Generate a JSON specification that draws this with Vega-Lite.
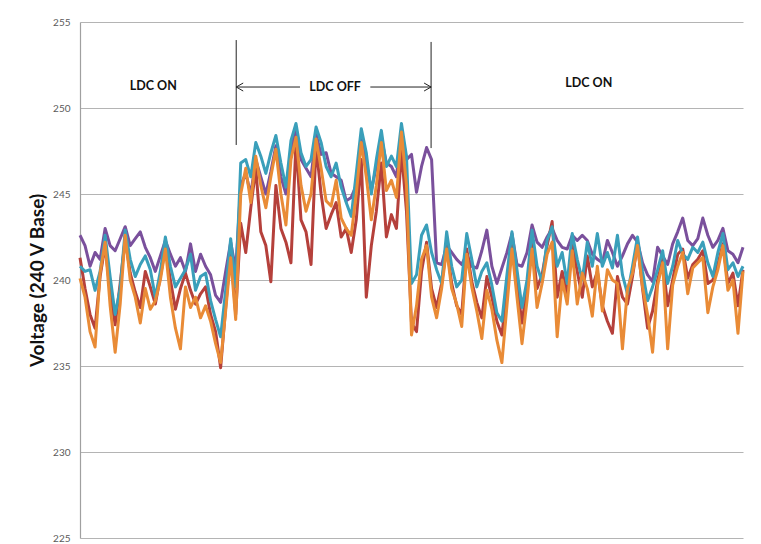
{
"$schema": "https://vega.github.io/schema/vega-lite/v6.json",
"width": 663, "height": 516,
"autosize": {"type": "none"},
"padding": {"left": 80, "top": 22, "right": 18, "bottom": 6},
"background": "white",
"config": {"view": {"stroke": null}, "font": "Lato"},
"datasets": {
"volts": [
{"s":"A","i":0,"v":242.6},{"s":"A","i":1,"v":242.0},{"s":"A","i":2,"v":240.8},{"s":"A","i":3,"v":241.6},{"s":"A","i":4,"v":241.2},{"s":"A","i":5,"v":243.0},{"s":"A","i":6,"v":242.0},{"s":"A","i":7,"v":241.7},{"s":"A","i":8,"v":242.4},{"s":"A","i":9,"v":243.1},{"s":"A","i":10,"v":242.0},{"s":"A","i":11,"v":242.4},{"s":"A","i":12,"v":242.8},{"s":"A","i":13,"v":241.9},{"s":"A","i":14,"v":241.3},{"s":"A","i":15,"v":240.5},{"s":"A","i":16,"v":241.4},{"s":"A","i":17,"v":242.3},{"s":"A","i":18,"v":241.5},{"s":"A","i":19,"v":240.8},{"s":"A","i":20,"v":241.3},{"s":"A","i":21,"v":240.5},{"s":"A","i":22,"v":242.1},{"s":"A","i":23,"v":240.5},{"s":"A","i":24,"v":241.5},{"s":"A","i":25,"v":240.8},{"s":"A","i":26,"v":240.3},{"s":"A","i":27,"v":239.1},{"s":"A","i":28,"v":238.7},{"s":"A","i":29,"v":240.5},{"s":"A","i":30,"v":242.2},{"s":"A","i":31,"v":240.6},
{"s":"A","i":32,"v":245.5},{"s":"A","i":33,"v":246.2},{"s":"A","i":34,"v":245.0},{"s":"A","i":35,"v":247.0},{"s":"A","i":36,"v":246.0},{"s":"A","i":37,"v":245.0},{"s":"A","i":38,"v":246.3},{"s":"A","i":39,"v":247.8},{"s":"A","i":40,"v":246.0},{"s":"A","i":41,"v":245.0},{"s":"A","i":42,"v":247.5},{"s":"A","i":43,"v":248.8},{"s":"A","i":44,"v":247.0},{"s":"A","i":45,"v":246.5},{"s":"A","i":46,"v":246.0},{"s":"A","i":47,"v":248.5},{"s":"A","i":48,"v":247.3},{"s":"A","i":49,"v":247.4},{"s":"A","i":50,"v":246.2},{"s":"A","i":51,"v":246.0},{"s":"A","i":52,"v":245.8},{"s":"A","i":53,"v":244.6},{"s":"A","i":54,"v":244.8},{"s":"A","i":55,"v":245.5},{"s":"A","i":56,"v":248.2},{"s":"A","i":57,"v":246.8},{"s":"A","i":58,"v":245.2},{"s":"A","i":59,"v":246.6},{"s":"A","i":60,"v":248.3},{"s":"A","i":61,"v":246.8},{"s":"A","i":62,"v":246.6},{"s":"A","i":63,"v":246.0},{"s":"A","i":64,"v":248.7},{"s":"A","i":65,"v":247.0},{"s":"A","i":66,"v":247.3},{"s":"A","i":67,"v":245.1},{"s":"A","i":68,"v":246.6},{"s":"A","i":69,"v":247.7},{"s":"A","i":70,"v":247.0},
{"s":"A","i":71,"v":241.0},{"s":"A","i":72,"v":240.9},{"s":"A","i":73,"v":242.0},{"s":"A","i":74,"v":241.6},{"s":"A","i":75,"v":241.2},{"s":"A","i":76,"v":240.9},{"s":"A","i":77,"v":241.5},{"s":"A","i":78,"v":240.8},{"s":"A","i":79,"v":240.7},{"s":"A","i":80,"v":241.7},{"s":"A","i":81,"v":242.9},{"s":"A","i":82,"v":240.8},{"s":"A","i":83,"v":239.8},{"s":"A","i":84,"v":240.7},{"s":"A","i":85,"v":241.6},{"s":"A","i":86,"v":242.7},{"s":"A","i":87,"v":240.9},{"s":"A","i":88,"v":240.8},{"s":"A","i":89,"v":241.6},{"s":"A","i":90,"v":243.2},{"s":"A","i":91,"v":242.2},{"s":"A","i":92,"v":241.9},{"s":"A","i":93,"v":242.5},{"s":"A","i":94,"v":243.0},{"s":"A","i":95,"v":242.3},{"s":"A","i":96,"v":241.9},{"s":"A","i":97,"v":241.8},{"s":"A","i":98,"v":242.6},{"s":"A","i":99,"v":242.3},{"s":"A","i":100,"v":242.6},{"s":"A","i":101,"v":242.3},{"s":"A","i":102,"v":241.5},{"s":"A","i":103,"v":241.2},{"s":"A","i":104,"v":241.0},{"s":"A","i":105,"v":242.3},{"s":"A","i":106,"v":241.6},{"s":"A","i":107,"v":240.8},{"s":"A","i":108,"v":241.4},{"s":"A","i":109,"v":242.1},{"s":"A","i":110,"v":242.6},{"s":"A","i":111,"v":242.2},{"s":"A","i":112,"v":241.0},{"s":"A","i":113,"v":240.3},{"s":"A","i":114,"v":239.9},{"s":"A","i":115,"v":241.9},{"s":"A","i":116,"v":241.4},{"s":"A","i":117,"v":240.9},{"s":"A","i":118,"v":242.1},{"s":"A","i":119,"v":242.8},{"s":"A","i":120,"v":243.6},{"s":"A","i":121,"v":242.3},{"s":"A","i":122,"v":242.0},{"s":"A","i":123,"v":242.4},{"s":"A","i":124,"v":243.6},{"s":"A","i":125,"v":242.6},{"s":"A","i":126,"v":241.9},{"s":"A","i":127,"v":242.3},{"s":"A","i":128,"v":243.0},{"s":"A","i":129,"v":241.7},{"s":"A","i":130,"v":241.5},{"s":"A","i":131,"v":241.0},{"s":"A","i":132,"v":241.9},
{"s":"B","i":0,"v":241.3},{"s":"B","i":1,"v":239.5},{"s":"B","i":2,"v":238.0},{"s":"B","i":3,"v":237.2},{"s":"B","i":4,"v":240.2},{"s":"B","i":5,"v":242.0},{"s":"B","i":6,"v":239.3},{"s":"B","i":7,"v":237.4},{"s":"B","i":8,"v":239.8},{"s":"B","i":9,"v":242.4},{"s":"B","i":10,"v":240.4},{"s":"B","i":11,"v":239.3},{"s":"B","i":12,"v":238.4},{"s":"B","i":13,"v":240.5},{"s":"B","i":14,"v":239.6},{"s":"B","i":15,"v":238.6},{"s":"B","i":16,"v":240.2},{"s":"B","i":17,"v":241.9},{"s":"B","i":18,"v":240.0},{"s":"B","i":19,"v":238.3},{"s":"B","i":20,"v":239.5},{"s":"B","i":21,"v":240.4},{"s":"B","i":22,"v":239.4},{"s":"B","i":23,"v":238.6},{"s":"B","i":24,"v":239.2},{"s":"B","i":25,"v":239.6},{"s":"B","i":26,"v":238.0},{"s":"B","i":27,"v":237.0},{"s":"B","i":28,"v":234.9},{"s":"B","i":29,"v":238.4},{"s":"B","i":30,"v":241.8},{"s":"B","i":31,"v":238.0},
{"s":"B","i":32,"v":243.3},{"s":"B","i":33,"v":241.6},{"s":"B","i":34,"v":244.2},{"s":"B","i":35,"v":246.5},{"s":"B","i":36,"v":242.8},{"s":"B","i":37,"v":242.0},{"s":"B","i":38,"v":239.9},{"s":"B","i":39,"v":245.5},{"s":"B","i":40,"v":243.0},{"s":"B","i":41,"v":242.2},{"s":"B","i":42,"v":241.0},{"s":"B","i":43,"v":248.0},{"s":"B","i":44,"v":243.5},{"s":"B","i":45,"v":242.8},{"s":"B","i":46,"v":240.9},{"s":"B","i":47,"v":247.8},{"s":"B","i":48,"v":245.0},{"s":"B","i":49,"v":243.0},{"s":"B","i":50,"v":243.8},{"s":"B","i":51,"v":244.5},{"s":"B","i":52,"v":242.5},{"s":"B","i":53,"v":243.0},{"s":"B","i":54,"v":241.6},{"s":"B","i":55,"v":243.5},{"s":"B","i":56,"v":247.0},{"s":"B","i":57,"v":239.0},{"s":"B","i":58,"v":242.0},{"s":"B","i":59,"v":244.0},{"s":"B","i":60,"v":246.8},{"s":"B","i":61,"v":242.5},{"s":"B","i":62,"v":243.8},{"s":"B","i":63,"v":243.0},{"s":"B","i":64,"v":247.5},{"s":"B","i":65,"v":244.0},
{"s":"B","i":66,"v":237.5},{"s":"B","i":67,"v":237.0},{"s":"B","i":68,"v":240.5},{"s":"B","i":69,"v":242.2},{"s":"B","i":70,"v":239.5},{"s":"B","i":71,"v":238.4},{"s":"B","i":72,"v":239.8},{"s":"B","i":73,"v":242.0},{"s":"B","i":74,"v":239.8},{"s":"B","i":75,"v":238.5},{"s":"B","i":76,"v":238.0},{"s":"B","i":77,"v":241.8},{"s":"B","i":78,"v":239.9},{"s":"B","i":79,"v":238.7},{"s":"B","i":80,"v":237.8},{"s":"B","i":81,"v":240.2},{"s":"B","i":82,"v":239.0},{"s":"B","i":83,"v":237.6},{"s":"B","i":84,"v":236.8},{"s":"B","i":85,"v":239.4},{"s":"B","i":86,"v":242.0},{"s":"B","i":87,"v":239.7},{"s":"B","i":88,"v":237.5},{"s":"B","i":89,"v":239.6},{"s":"B","i":90,"v":242.2},{"s":"B","i":91,"v":239.5},{"s":"B","i":92,"v":240.3},{"s":"B","i":93,"v":242.0},{"s":"B","i":94,"v":243.4},{"s":"B","i":95,"v":239.0},{"s":"B","i":96,"v":240.5},{"s":"B","i":97,"v":239.2},{"s":"B","i":98,"v":242.1},{"s":"B","i":99,"v":240.5},{"s":"B","i":100,"v":239.0},{"s":"B","i":101,"v":241.4},{"s":"B","i":102,"v":239.6},{"s":"B","i":103,"v":240.5},{"s":"B","i":104,"v":238.5},{"s":"B","i":105,"v":237.6},{"s":"B","i":106,"v":236.9},{"s":"B","i":107,"v":240.2},{"s":"B","i":108,"v":239.0},{"s":"B","i":109,"v":238.6},{"s":"B","i":110,"v":240.2},{"s":"B","i":111,"v":242.1},{"s":"B","i":112,"v":239.5},{"s":"B","i":113,"v":237.2},{"s":"B","i":114,"v":238.2},{"s":"B","i":115,"v":240.0},{"s":"B","i":116,"v":241.2},{"s":"B","i":117,"v":238.5},{"s":"B","i":118,"v":240.0},{"s":"B","i":119,"v":241.5},{"s":"B","i":120,"v":241.8},{"s":"B","i":121,"v":240.1},{"s":"B","i":122,"v":240.9},{"s":"B","i":123,"v":241.2},{"s":"B","i":124,"v":241.7},{"s":"B","i":125,"v":239.8},{"s":"B","i":126,"v":240.0},{"s":"B","i":127,"v":240.9},{"s":"B","i":128,"v":242.1},{"s":"B","i":129,"v":239.8},{"s":"B","i":130,"v":240.4},{"s":"B","i":131,"v":238.5},{"s":"B","i":132,"v":240.6},
{"s":"C","i":0,"v":240.8},{"s":"C","i":1,"v":240.5},{"s":"C","i":2,"v":240.6},{"s":"C","i":3,"v":239.4},{"s":"C","i":4,"v":240.5},{"s":"C","i":5,"v":242.6},{"s":"C","i":6,"v":240.2},{"s":"C","i":7,"v":238.0},{"s":"C","i":8,"v":239.5},{"s":"C","i":9,"v":242.9},{"s":"C","i":10,"v":241.2},{"s":"C","i":11,"v":240.2},{"s":"C","i":12,"v":240.9},{"s":"C","i":13,"v":241.4},{"s":"C","i":14,"v":240.6},{"s":"C","i":15,"v":239.0},{"s":"C","i":16,"v":240.5},{"s":"C","i":17,"v":242.5},{"s":"C","i":18,"v":240.8},{"s":"C","i":19,"v":239.6},{"s":"C","i":20,"v":240.1},{"s":"C","i":21,"v":240.6},{"s":"C","i":22,"v":241.5},{"s":"C","i":23,"v":239.4},{"s":"C","i":24,"v":240.2},{"s":"C","i":25,"v":240.4},{"s":"C","i":26,"v":238.8},{"s":"C","i":27,"v":237.7},{"s":"C","i":28,"v":236.7},{"s":"C","i":29,"v":239.4},{"s":"C","i":30,"v":242.4},{"s":"C","i":31,"v":239.6},
{"s":"C","i":32,"v":246.8},{"s":"C","i":33,"v":247.0},{"s":"C","i":34,"v":246.0},{"s":"C","i":35,"v":248.0},{"s":"C","i":36,"v":247.2},{"s":"C","i":37,"v":246.2},{"s":"C","i":38,"v":247.4},{"s":"C","i":39,"v":248.4},{"s":"C","i":40,"v":246.8},{"s":"C","i":41,"v":245.4},{"s":"C","i":42,"v":248.1},{"s":"C","i":43,"v":249.1},{"s":"C","i":44,"v":247.4},{"s":"C","i":45,"v":246.6},{"s":"C","i":46,"v":247.0},{"s":"C","i":47,"v":248.9},{"s":"C","i":48,"v":248.0},{"s":"C","i":49,"v":246.6},{"s":"C","i":50,"v":246.0},{"s":"C","i":51,"v":246.8},{"s":"C","i":52,"v":245.4},{"s":"C","i":53,"v":244.5},{"s":"C","i":54,"v":243.7},{"s":"C","i":55,"v":246.2},{"s":"C","i":56,"v":248.8},{"s":"C","i":57,"v":247.4},{"s":"C","i":58,"v":245.0},{"s":"C","i":59,"v":247.0},{"s":"C","i":60,"v":248.7},{"s":"C","i":61,"v":246.6},{"s":"C","i":62,"v":247.2},{"s":"C","i":63,"v":246.6},{"s":"C","i":64,"v":249.1},{"s":"C","i":65,"v":247.2},
{"s":"C","i":66,"v":239.8},{"s":"C","i":67,"v":240.3},{"s":"C","i":68,"v":242.6},{"s":"C","i":69,"v":243.2},{"s":"C","i":70,"v":241.6},{"s":"C","i":71,"v":240.6},{"s":"C","i":72,"v":239.8},{"s":"C","i":73,"v":242.8},{"s":"C","i":74,"v":240.8},{"s":"C","i":75,"v":239.6},{"s":"C","i":76,"v":240.0},{"s":"C","i":77,"v":242.7},{"s":"C","i":78,"v":241.2},{"s":"C","i":79,"v":239.6},{"s":"C","i":80,"v":240.5},{"s":"C","i":81,"v":241.0},{"s":"C","i":82,"v":239.7},{"s":"C","i":83,"v":238.1},{"s":"C","i":84,"v":237.6},{"s":"C","i":85,"v":240.3},{"s":"C","i":86,"v":242.8},{"s":"C","i":87,"v":240.6},{"s":"C","i":88,"v":238.4},{"s":"C","i":89,"v":240.0},{"s":"C","i":90,"v":242.9},{"s":"C","i":91,"v":240.8},{"s":"C","i":92,"v":239.9},{"s":"C","i":93,"v":242.3},{"s":"C","i":94,"v":243.1},{"s":"C","i":95,"v":240.8},{"s":"C","i":96,"v":241.6},{"s":"C","i":97,"v":239.8},{"s":"C","i":98,"v":242.7},{"s":"C","i":99,"v":241.2},{"s":"C","i":100,"v":240.0},{"s":"C","i":101,"v":242.2},{"s":"C","i":102,"v":240.8},{"s":"C","i":103,"v":242.7},{"s":"C","i":104,"v":240.8},{"s":"C","i":105,"v":241.6},{"s":"C","i":106,"v":240.7},{"s":"C","i":107,"v":242.6},{"s":"C","i":108,"v":240.3},{"s":"C","i":109,"v":239.2},{"s":"C","i":110,"v":240.8},{"s":"C","i":111,"v":242.5},{"s":"C","i":112,"v":240.5},{"s":"C","i":113,"v":238.8},{"s":"C","i":114,"v":239.6},{"s":"C","i":115,"v":240.6},{"s":"C","i":116,"v":241.7},{"s":"C","i":117,"v":239.8},{"s":"C","i":118,"v":240.8},{"s":"C","i":119,"v":242.3},{"s":"C","i":120,"v":241.5},{"s":"C","i":121,"v":241.2},{"s":"C","i":122,"v":241.9},{"s":"C","i":123,"v":241.6},{"s":"C","i":124,"v":242.2},{"s":"C","i":125,"v":241.0},{"s":"C","i":126,"v":240.2},{"s":"C","i":127,"v":241.6},{"s":"C","i":128,"v":242.7},{"s":"C","i":129,"v":240.6},{"s":"C","i":130,"v":241.0},{"s":"C","i":131,"v":240.2},{"s":"C","i":132,"v":240.8},
{"s":"D","i":0,"v":240.1},{"s":"D","i":1,"v":239.0},{"s":"D","i":2,"v":237.0},{"s":"D","i":3,"v":236.1},{"s":"D","i":4,"v":240.4},{"s":"D","i":5,"v":242.2},{"s":"D","i":6,"v":238.5},{"s":"D","i":7,"v":235.8},{"s":"D","i":8,"v":238.6},{"s":"D","i":9,"v":242.6},{"s":"D","i":10,"v":240.0},{"s":"D","i":11,"v":239.0},{"s":"D","i":12,"v":237.5},{"s":"D","i":13,"v":239.5},{"s":"D","i":14,"v":238.3},{"s":"D","i":15,"v":238.8},{"s":"D","i":16,"v":240.0},{"s":"D","i":17,"v":241.8},{"s":"D","i":18,"v":239.0},{"s":"D","i":19,"v":237.2},{"s":"D","i":20,"v":236.0},{"s":"D","i":21,"v":239.6},{"s":"D","i":22,"v":238.4},{"s":"D","i":23,"v":239.0},{"s":"D","i":24,"v":237.8},{"s":"D","i":25,"v":238.5},{"s":"D","i":26,"v":237.6},{"s":"D","i":27,"v":236.3},{"s":"D","i":28,"v":235.2},{"s":"D","i":29,"v":238.2},{"s":"D","i":30,"v":241.3},{"s":"D","i":31,"v":237.7},
{"s":"D","i":32,"v":245.0},{"s":"D","i":33,"v":246.5},{"s":"D","i":34,"v":244.5},{"s":"D","i":35,"v":247.2},{"s":"D","i":36,"v":245.5},{"s":"D","i":37,"v":244.2},{"s":"D","i":38,"v":246.0},{"s":"D","i":39,"v":247.6},{"s":"D","i":40,"v":245.0},{"s":"D","i":41,"v":243.2},{"s":"D","i":42,"v":247.0},{"s":"D","i":43,"v":248.3},{"s":"D","i":44,"v":245.5},{"s":"D","i":45,"v":244.0},{"s":"D","i":46,"v":245.0},{"s":"D","i":47,"v":248.2},{"s":"D","i":48,"v":246.5},{"s":"D","i":49,"v":244.6},{"s":"D","i":50,"v":244.3},{"s":"D","i":51,"v":245.8},{"s":"D","i":52,"v":243.6},{"s":"D","i":53,"v":243.0},{"s":"D","i":54,"v":242.6},{"s":"D","i":55,"v":245.0},{"s":"D","i":56,"v":248.0},{"s":"D","i":57,"v":246.0},{"s":"D","i":58,"v":243.5},{"s":"D","i":59,"v":245.5},{"s":"D","i":60,"v":248.0},{"s":"D","i":61,"v":245.2},{"s":"D","i":62,"v":245.8},{"s":"D","i":63,"v":244.8},{"s":"D","i":64,"v":248.6},{"s":"D","i":65,"v":245.5},
{"s":"D","i":66,"v":236.8},{"s":"D","i":67,"v":238.5},{"s":"D","i":68,"v":241.2},{"s":"D","i":69,"v":242.0},{"s":"D","i":70,"v":239.0},{"s":"D","i":71,"v":237.8},{"s":"D","i":72,"v":239.5},{"s":"D","i":73,"v":241.8},{"s":"D","i":74,"v":239.5},{"s":"D","i":75,"v":238.6},{"s":"D","i":76,"v":237.3},{"s":"D","i":77,"v":241.5},{"s":"D","i":78,"v":239.6},{"s":"D","i":79,"v":238.2},{"s":"D","i":80,"v":236.6},{"s":"D","i":81,"v":239.4},{"s":"D","i":82,"v":238.3},{"s":"D","i":83,"v":236.5},{"s":"D","i":84,"v":235.2},{"s":"D","i":85,"v":238.5},{"s":"D","i":86,"v":241.8},{"s":"D","i":87,"v":239.0},{"s":"D","i":88,"v":236.3},{"s":"D","i":89,"v":238.8},{"s":"D","i":90,"v":241.8},{"s":"D","i":91,"v":238.4},{"s":"D","i":92,"v":239.8},{"s":"D","i":93,"v":241.5},{"s":"D","i":94,"v":242.2},{"s":"D","i":95,"v":236.7},{"s":"D","i":96,"v":240.0},{"s":"D","i":97,"v":238.6},{"s":"D","i":98,"v":241.7},{"s":"D","i":99,"v":238.6},{"s":"D","i":100,"v":240.4},{"s":"D","i":101,"v":239.5},{"s":"D","i":102,"v":237.9},{"s":"D","i":103,"v":240.8},{"s":"D","i":104,"v":238.2},{"s":"D","i":105,"v":240.6},{"s":"D","i":106,"v":240.0},{"s":"D","i":107,"v":239.8},{"s":"D","i":108,"v":236.0},{"s":"D","i":109,"v":239.5},{"s":"D","i":110,"v":240.4},{"s":"D","i":111,"v":242.0},{"s":"D","i":112,"v":239.6},{"s":"D","i":113,"v":238.0},{"s":"D","i":114,"v":235.8},{"s":"D","i":115,"v":239.7},{"s":"D","i":116,"v":241.0},{"s":"D","i":117,"v":236.0},{"s":"D","i":118,"v":239.7},{"s":"D","i":119,"v":240.8},{"s":"D","i":120,"v":241.6},{"s":"D","i":121,"v":239.2},{"s":"D","i":122,"v":240.7},{"s":"D","i":123,"v":241.0},{"s":"D","i":124,"v":241.3},{"s":"D","i":125,"v":238.1},{"s":"D","i":126,"v":239.6},{"s":"D","i":127,"v":240.6},{"s":"D","i":128,"v":242.0},{"s":"D","i":129,"v":239.4},{"s":"D","i":130,"v":240.0},{"s":"D","i":131,"v":236.9},{"s":"D","i":132,"v":240.5}
],
"bounds": [{"i": 31.1, "v1": 253.95, "v2": 247.85}, {"i": 69.9, "v1": 253.84, "v2": 247.67}],
"span": [{"i1": 31.1, "i2": 43.8, "v": 251.22}, {"i1": 57.8, "i2": 69.9, "v": 251.22}],
"heads": [{"i": 31.1, "v": 251.22, "dir": "left"}, {"i": 69.9, "v": 251.22, "dir": "right"}],
"labels": [{"i": 14.6, "v": 251.28, "label": "LDC ON"}, {"i": 50.8, "v": 251.2, "label": "LDC OFF"}, {"i": 101.3, "v": 251.45, "label": "LDC ON"}]
},
"layer": [
{
"data": {"name": "volts"},
"mark": {"type": "line", "strokeWidth": 3, "strokeJoin": "round"},
"encoding": {
"x": {"field": "i", "type": "quantitative", "scale": {"domain": [0, 132], "nice": false, "zero": false}, "axis": null},
"y": {"field": "v", "type": "quantitative", "scale": {"domain": [225, 255], "nice": false, "zero": false},
"axis": {"title": "Voltage (240 V Base)", "values": [225, 230, 235, 240, 245, 250, 255], "grid": true, "gridColor": "#b4b4b4", "gridWidth": 1.2, "domainColor": "#a0a0a0", "domainWidth": 1.2, "ticks": false, "labelPadding": 10, "labelFontSize": 10, "labelColor": "#5a5a5a", "labelFont": "Lato", "titleFont": "Lato", "titleFontSize": 19, "titleFontWeight": "bold", "titleColor": "#111111", "titlePadding": 5}},
"color": {"field": "s", "type": "nominal", "scale": {"domain": ["A", "B", "C", "D"], "range": ["#7a509c", "#b5403b", "#3a9fba", "#e98b36"]}, "legend": null}
}
},
{
"data": {"name": "bounds"},
"mark": {"type": "rule", "color": "#222222", "strokeWidth": 1},
"encoding": {
"x": {"field": "i", "type": "quantitative"},
"y": {"field": "v1", "type": "quantitative", "title": "Voltage (240 V Base)"},
"y2": {"field": "v2"}
}
},
{
"data": {"name": "span"},
"mark": {"type": "rule", "color": "#222222", "strokeWidth": 1},
"encoding": {
"x": {"field": "i1", "type": "quantitative"},
"x2": {"field": "i2"},
"y": {"field": "v", "type": "quantitative", "title": "Voltage (240 V Base)"}
}
},
{
"data": {"name": "heads"},
"mark": {"type": "point", "filled": false, "size": 64, "stroke": "#222222", "strokeWidth": 1, "opacity": 1},
"encoding": {
"x": {"field": "i", "type": "quantitative"},
"y": {"field": "v", "type": "quantitative", "title": "Voltage (240 V Base)"},
"shape": {"field": "dir", "type": "nominal", "scale": {"domain": ["left", "right"], "range": ["M1.75,-1L0,0L1.75,1", "M-1.75,-1L0,0L-1.75,1"]}, "legend": null}
}
},
{
"data": {"name": "labels"},
"mark": {"type": "text", "font": "Lato", "fontSize": 12.5, "fontWeight": "bold", "color": "#111111", "align": "center", "baseline": "middle"},
"encoding": {
"x": {"field": "i", "type": "quantitative"},
"y": {"field": "v", "type": "quantitative", "title": "Voltage (240 V Base)"},
"text": {"field": "label", "type": "nominal"}
}
}
]
}
